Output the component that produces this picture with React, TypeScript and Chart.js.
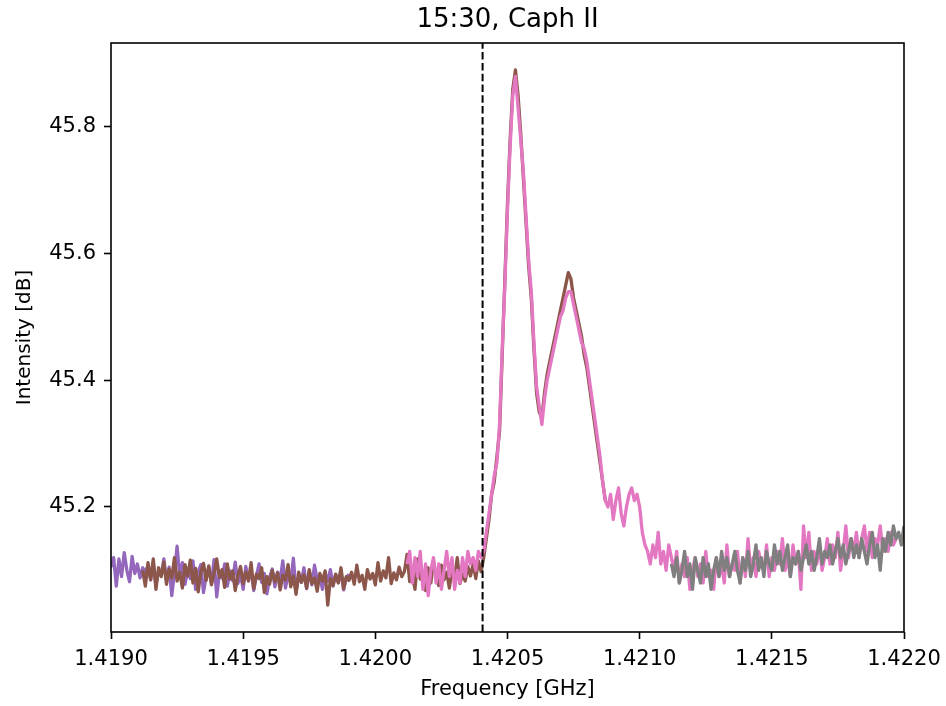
import React, { useEffect, useRef } from "react";
import { Chart, registerables } from "chart.js";

Chart.register(...registerables);

// ---------- data ----------
const FREQ_STEP = 0.00001; // GHz per channel
const hiRestFreq = 1.420405751; // GHz, dashed reference line

const purpleStart = 1.419;
const purpleValues = [
  45.105, 45.120, 45.075, 45.118, 45.090, 45.128, 45.100, 45.082, 45.122, 45.095,
  45.110, 45.088, 45.104, 45.097, 45.108, 45.085, 45.112, 45.076, 45.100, 45.092,
  45.118, 45.083, 45.105, 45.060, 45.096, 45.138, 45.090, 45.112, 45.078, 45.101,
  45.087, 45.115, 45.070, 45.098, 45.109, 45.065, 45.092, 45.104, 45.080, 45.117,
  45.058, 45.096, 45.088, 45.110, 45.075, 45.099, 45.084, 45.113, 45.079, 45.094,
  45.070, 45.106, 45.086, 45.098, 45.068, 45.091, 45.110, 45.081, 45.095, 45.063,
  45.089, 45.102, 45.074, 45.097, 45.085, 45.115, 45.072, 45.093, 45.080, 45.119,
  45.066, 45.090, 45.082, 45.104, 45.071, 45.099, 45.077, 45.108, 45.085, 45.091,
  45.070, 45.096, 45.083, 45.101, 45.075, 45.093, 45.081, 45.098, 45.069, 45.088,
  45.094,
];

const brownStart = 1.41912;
const brownValues = [
  45.100, 45.075, 45.112, 45.085, 45.118, 45.070, 45.104, 45.090, 45.113, 45.078,
  45.102, 45.088, 45.120, 45.083, 45.097, 45.072, 45.109, 45.091, 45.116, 45.080,
  45.103, 45.066, 45.098, 45.111, 45.084, 45.107, 45.077, 45.095, 45.118, 45.089,
  45.101, 45.073, 45.110, 45.086, 45.099, 45.068, 45.092, 45.106, 45.079, 45.097,
  45.083, 45.112, 45.071, 45.094, 45.087, 45.104, 45.065, 45.090, 45.078, 45.100,
  45.082, 45.096, 45.069, 45.092, 45.085, 45.109, 45.074, 45.091, 45.062, 45.097,
  45.081, 45.093, 45.072, 45.101, 45.079, 45.088, 45.067, 45.095, 45.083, 45.099,
  45.045, 45.087, 45.076, 45.094, 45.080, 45.104, 45.071, 45.090, 45.084, 45.097,
  45.078, 45.108, 45.082, 45.092, 45.070, 45.101, 45.086, 45.095, 45.077, 45.112,
  45.083, 45.099, 45.088, 45.120, 45.079, 45.096, 45.085, 45.105, 45.090, 45.098,
  45.125, 45.082, 45.093, 45.070, 45.118, 45.086, 45.099, 45.068, 45.104, 45.080,
  45.115, 45.090, 45.076, 45.108, 45.085, 45.097, 45.072, 45.101, 45.088, 45.120,
  45.079, 45.094, 45.083, 45.106, 45.091, 45.110, 45.087, 45.115, 45.098,
  45.12, 45.15, 45.18, 45.22, 45.24, 45.28, 45.32, 45.44, 45.56, 45.68,
  45.78, 45.86, 45.89, 45.85, 45.79, 45.72, 45.65, 45.58, 45.53, 45.45,
  45.38, 45.35, 45.34, 45.38, 45.41, 45.43, 45.45, 45.47, 45.49, 45.51,
  45.53, 45.55, 45.57, 45.56, 45.53, 45.51, 45.49, 45.47, 45.44, 45.42,
  45.39, 45.36, 45.33, 45.30, 45.27, 45.24, 45.21,
];

const pinkStart = 1.42012;
const pinkValues = [
  45.11, 45.13, 45.08, 45.12, 45.09, 45.13, 45.07, 45.11, 45.06, 45.10,
  45.12, 45.08, 45.11, 45.07, 45.10, 45.13, 45.09, 45.12, 45.07, 45.10,
  45.08, 45.12, 45.09, 45.13, 45.11, 45.12, 45.10, 45.13, 45.12,
  45.13, 45.16, 45.19, 45.22, 45.25, 45.27, 45.33, 45.45, 45.55, 45.67,
  45.77, 45.85, 45.88, 45.83, 45.78, 45.73, 45.66, 45.59, 45.54, 45.46,
  45.39, 45.36, 45.33, 45.37, 45.40, 45.42, 45.44, 45.46, 45.48, 45.50,
  45.51, 45.53, 45.54, 45.54, 45.52, 45.50, 45.48, 45.46, 45.45, 45.43,
  45.40, 45.37, 45.34, 45.31, 45.28, 45.24, 45.21,
  45.20, 45.22, 45.18, 45.21, 45.23, 45.19, 45.17, 45.20, 45.22, 45.23,
  45.21, 45.22, 45.20, 45.16, 45.14, 45.13, 45.11, 45.14, 45.12, 45.16,
  45.11, 45.13, 45.10, 45.14, 45.12,
  45.10, 45.13, 45.08, 45.11, 45.09, 45.12, 45.07, 45.10, 45.12, 45.09,
  45.11, 45.08, 45.13, 45.09, 45.10, 45.07, 45.12, 45.09, 45.11, 45.08,
  45.14, 45.09, 45.11, 45.10, 45.13, 45.08, 45.12, 45.09, 45.15, 45.10,
  45.12, 45.09, 45.13, 45.11, 45.10, 45.14, 45.09, 45.12, 45.10, 45.13,
  45.11, 45.15, 45.10, 45.12, 45.09, 45.14, 45.11, 45.13, 45.07, 45.17,
  45.12, 45.16, 45.10, 45.13, 45.11, 45.14, 45.10, 45.12, 45.15, 45.11,
  45.14, 45.12, 45.16, 45.10, 45.13, 45.17, 45.12, 45.15, 45.13, 45.16,
  45.12, 45.15, 45.17, 45.13, 45.16, 45.12, 45.15, 45.14, 45.17, 45.13,
  45.15, 45.13, 45.16, 45.14, 45.15,
];

const grayStart = 1.42112;
const grayValues = [
  45.11, 45.09, 45.12, 45.08, 45.10, 45.13, 45.09, 45.11, 45.07, 45.12,
  45.10, 45.08, 45.12, 45.09, 45.11, 45.07, 45.10, 45.12, 45.09, 45.13,
  45.10, 45.12, 45.09, 45.11, 45.13, 45.10, 45.08, 45.12, 45.10, 45.13,
  45.09, 45.11, 45.14, 45.10, 45.12, 45.09, 45.13, 45.11, 45.10, 45.14,
  45.11, 45.13, 45.10, 45.12, 45.14, 45.09, 45.12, 45.11, 45.13, 45.10,
  45.12, 45.14, 45.11, 45.13, 45.10, 45.12, 45.15, 45.11, 45.13, 45.12,
  45.14, 45.11, 45.13, 45.15, 45.12, 45.14, 45.11, 45.13, 45.15, 45.12,
  45.14, 45.12, 45.15, 45.13, 45.11, 45.14, 45.16, 45.12, 45.14, 45.10,
  45.15, 45.13, 45.16, 45.14, 45.17, 45.15, 45.16, 45.14, 45.17,
];

const xTicks = [1.419, 1.4195, 1.42, 1.4205, 1.421, 1.4215, 1.422];
const yTicks = [45.2, 45.4, 45.6, 45.8];
const xMin = 1.419;
const xMax = 1.422;
const yMin = 45.0026;
const yMax = 45.9326;

const titleText = "15:30, Caph II";
const xLabel = "Frequency [GHz]";
const yLabel = "Intensity [dB]";

// ---------- helpers ----------
const toPoints = (start: number, values: number[]) =>
  values.map((v, i) => ({ x: start + i * FREQ_STEP, y: v }));

const FONT = "'DejaVu Sans', sans-serif";

const boxPlugin = {
  id: "axesBox",
  afterDraw(chart: any) {
    const { ctx, chartArea: a } = chart;
    ctx.save();
    ctx.strokeStyle = "#000";
    ctx.lineWidth = 1.6;
    ctx.strokeRect(a.left, a.top, a.right - a.left, a.bottom - a.top);
    ctx.restore();
  },
};

export default function App() {
  const canvasRef = useRef<HTMLCanvasElement | null>(null);

  useEffect(() => {
    if (!canvasRef.current) return;
    const lineDs = (label: string, start: number, values: number[], color: string, order: number) => ({
      label,
      data: toPoints(start, values),
      borderColor: color,
      backgroundColor: color,
      borderWidth: 3.3,
      pointRadius: 0,
      tension: 0,
      fill: false,
      borderJoinStyle: "round" as const,
      order,
    });

    const tickGrid = {
      display: true,
      drawOnChartArea: false,
      drawTicks: true,
      tickLength: 7,
      tickWidth: 1.6,
      tickColor: "#000",
    };

    const chart = new Chart(canvasRef.current, {
      type: "line",
      data: {
        datasets: [
          {
            label: "HI",
            data: [
              { x: hiRestFreq, y: yMin },
              { x: hiRestFreq, y: yMax },
            ],
            borderColor: "#000",
            borderWidth: 2,
            borderDash: [7.5, 3.3],
            pointRadius: 0,
            fill: false,
            order: 0,
          },
          lineDs("gray", grayStart, grayValues, "#7f7f7f", 1),
          lineDs("pink", pinkStart, pinkValues, "#e377c2", 2),
          lineDs("brown", brownStart, brownValues, "#8c564b", 3),
          lineDs("purple", purpleStart, purpleValues, "#9467bd", 4),
        ],
      },
      options: {
        animation: false,
        responsive: false,
        maintainAspectRatio: false,
        parsing: true,
        layout: { padding: { left: 0, right: 42, top: 0, bottom: 0 } },
        plugins: {
          legend: { display: false },
          tooltip: { enabled: false },
          title: { display: false },
        },
        scales: {
          x: {
            type: "linear",
            position: "bottom",
            min: xMin,
            max: xMax,
            grid: tickGrid,
            border: { display: false },
            afterBuildTicks: (s: any) => {
              s.ticks = xTicks.map((v) => ({ value: v }));
            },
            afterFit: (s: any) => {
              s.height = 74;
              s.paddingLeft = 0;
              s.paddingRight = 0;
            },
            ticks: {
              color: "#000",
              font: { family: FONT, size: 21 },
              padding: 8,
              maxRotation: 0,
              autoSkip: false,
              callback: (v: any) => Number(v).toFixed(4),
            },
            title: {
              display: true,
              text: xLabel,
              color: "#000",
              font: { family: FONT, size: 21 },
              padding: { top: 0, bottom: 4 },
            },
          },
          xTop: {
            type: "linear",
            position: "top",
            min: 0,
            max: 1,
            display: true,
            grid: { display: false, drawTicks: false },
            border: { display: false },
            ticks: { display: false },
            afterFit: (s: any) => {
              s.height = 43;
              s.paddingLeft = 0;
              s.paddingRight = 0;
            },
            title: {
              display: true,
              text: titleText,
              color: "#000",
              font: { family: FONT, size: 26 },
              padding: { top: 5, bottom: 0 },
            },
          },
          y: {
            type: "linear",
            position: "left",
            min: yMin,
            max: yMax,
            grid: tickGrid,
            border: { display: false },
            afterBuildTicks: (s: any) => {
              s.ticks = yTicks.map((v) => ({ value: v }));
            },
            afterFit: (s: any) => {
              s.width = 111;
              s.paddingTop = 0;
              s.paddingBottom = 0;
            },
            ticks: {
              color: "#000",
              font: { family: FONT, size: 21 },
              padding: 8,
              autoSkip: false,
              callback: (v: any) => Number(v).toFixed(1),
            },
            title: {
              display: true,
              text: yLabel,
              color: "#000",
              font: { family: FONT, size: 20 },
              padding: { top: 13, bottom: 0 },
            },
          },
        },
      },
      plugins: [boxPlugin],
    } as any);

    return () => {
      chart.destroy();
    };
  }, []);

  return (
    <div style={{ position: "absolute", left: 0, top: 0, width: 946, height: 706, background: "#fff" }}>
      <canvas ref={canvasRef} width={946} height={706} style={{ display: "block" }} />
    </div>
  );
}
